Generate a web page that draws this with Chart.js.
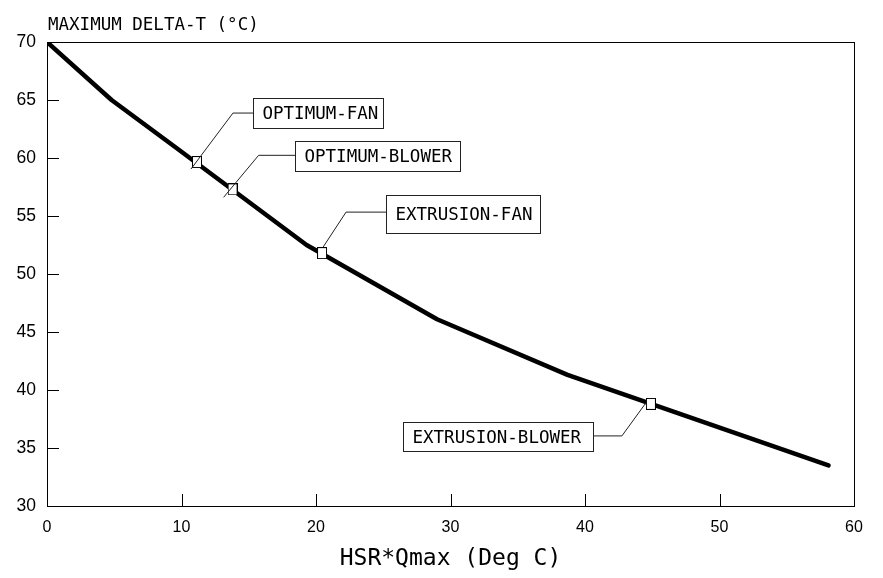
<!DOCTYPE html>
<html>
<head>
<meta charset="utf-8">
<script src="https://cdn.jsdelivr.net/npm/chart.js@4.4.1/dist/chart.umd.min.js"></script>
<style>
    html, body { margin: 0; padding: 0; background: #fff; }
    #wrap { width: 883px; height: 578px; }
</style>
</head>
<body>
<div id="wrap"><canvas id="grafico"></canvas></div>
<script>
// curve data
const hsrQmax = [0, 4.8, 9.7, 19.3, 29.0, 38.7, 48.4, 58.1];
const maxDeltaT = [70, 65.0, 60.8, 52.5, 46.1, 41.3, 37.4, 33.5];

// design points
const designNames = ['OPTIMUM-FAN', 'OPTIMUM-BLOWER', 'EXTRUSION-FAN', 'EXTRUSION-BLOWER'];
const designX = [11.15, 13.8, 20.45, 44.9];
const designY = [59.65, 57.3, 51.8, 38.8];

const xTicks = [0, 10, 20, 30, 40, 50, 60];
const yTicks = [30, 35, 40, 45, 50, 55, 60, 65, 70];

// leader line layout (pixels, relative to the marker)
const leaders = [
    {start: [-6, 7], elbow: [36, -49], left: 56, cy: -49, w: 130, h: 30},
    {start: [-9, 8], elbow: [26, -34], left: 62, cy: -33, w: 165, h: 30},
    {start: [1, -6], elbow: [24, -41], left: 64, cy: -39, w: 154, h: 38},
    {start: [-5, -1], elbow: [-29, 32], left: -248, cy: 32.5, w: 190, h: 29}
];

const monoFont = '"DejaVu Sans Mono", "Liberation Mono", monospace';
const sansFont = '"Liberation Sans", Arial, sans-serif';

function marcador() {
    let c = document.createElement('canvas');
    c.width = 10;
    c.height = 12;
    let ctx = c.getContext('2d');
    ctx.fillStyle = '#fff';
    ctx.fillRect(0, 0, 10, 12);
    ctx.strokeStyle = '#000';
    ctx.lineWidth = 1;
    ctx.strokeRect(0.5, 0.5, 9, 11);
    return c;
}

const puntos = [];
for (let i = 0; i < hsrQmax.length; i++) {
    puntos.push({x: hsrQmax[i], y: maxDeltaT[i]});
}
const disenos = [];
for (let i = 0; i < designX.length; i++) {
    disenos.push({x: designX[i], y: designY[i]});
}

const extras = {
    id: 'extras',
    afterDraw(chart) {
        const ctx = chart.ctx;
        const a = chart.chartArea;
        const xs = chart.scales.x;
        const ys = chart.scales.y;
        ctx.save();
        ctx.strokeStyle = '#000';
        ctx.lineWidth = 1;
        // frame
        ctx.strokeRect(Math.round(a.left) + 0.5, Math.round(a.top) + 0.5, Math.round(a.right - a.left), Math.round(a.bottom - a.top));
        // inward ticks
        ctx.beginPath();
        for (let i = 1; i < xTicks.length - 1; i++) {
            let px = Math.round(xs.getPixelForValue(xTicks[i])) + 0.5;
            ctx.moveTo(px, a.bottom);
            ctx.lineTo(px, a.bottom - 12);
        }
        for (let i = 1; i < yTicks.length - 1; i++) {
            let py = Math.round(ys.getPixelForValue(yTicks[i])) + 0.5;
            ctx.moveTo(a.left, py);
            ctx.lineTo(a.left + 12, py);
        }
        ctx.stroke();

        // y axis title at top left
        ctx.fillStyle = '#000';
        ctx.font = '17.5px ' + monoFont;
        ctx.textAlign = 'left';
        ctx.textBaseline = 'alphabetic';
        ctx.fillText('MAXIMUM DELTA-T (\u00B0C)', a.left + 1, 30);

        // leader lines and label boxes
        ctx.strokeStyle = '#222';
        ctx.textBaseline = 'middle';
        for (let i = 0; i < designNames.length; i++) {
            let mx = xs.getPixelForValue(designX[i]);
            let my = ys.getPixelForValue(designY[i]);
            let l = leaders[i];
            let bx = Math.round(mx + l.left) + 0.5;
            let by = Math.round(my + l.cy - l.h / 2) + 0.5;
            let edge = l.left > 0 ? bx : bx + l.w;
            ctx.beginPath();
            ctx.moveTo(mx + l.start[0], my + l.start[1]);
            ctx.lineTo(mx + l.elbow[0], my + l.elbow[1]);
            ctx.lineTo(edge, my + l.elbow[1]);
            ctx.stroke();
            ctx.fillStyle = '#fff';
            ctx.fillRect(bx, by, l.w, l.h);
            ctx.strokeRect(bx, by, l.w, l.h);
            ctx.fillStyle = '#000';
            ctx.fillText(designNames[i], bx + 9, by + l.h / 2 + 1);
        }
        ctx.restore();
    }
};

Chart.defaults.color = '#000';

new Chart(document.getElementById('grafico'), {
    type: 'scatter',
    data: {
        datasets: [{
            label: 'Max delta-T',
            data: puntos,
            showLine: true,
            borderColor: '#000',
            borderWidth: 4.5,
            borderJoinStyle: 'round',
            borderCapStyle: 'round',
            tension: 0,
            pointRadius: 0,
            order: 1
        }, {
            label: 'Designs',
            data: disenos,
            pointStyle: marcador(),
            pointRadius: 6,
            order: 0
        }]
    },
    options: {
        responsive: true,
        maintainAspectRatio: false,
        animation: false,
        layout: {padding: {top: 42, right: 29, left: 0, bottom: 0}},
        plugins: {
            legend: {display: false},
            tooltip: {enabled: false}
        },
        scales: {
            x: {
                type: 'linear',
                min: 0,
                max: 60,
                afterFit: function (scale) { scale.height = 72; },
                afterBuildTicks: function (scale) { scale.ticks = xTicks.map(v => ({value: v})); },
                grid: {display: false, drawTicks: false},
                border: {display: true, color: '#000', width: 1},
                ticks: {
                    padding: 12,
                    maxRotation: 0,
                    font: {family: sansFont, size: 16}
                },
                title: {
                    display: true,
                    text: 'HSR*Qmax (Deg C)',
                    color: '#000',
                    font: {family: monoFont, size: 23},
                    padding: {top: 0, bottom: 5}
                }
            },
            y: {
                type: 'linear',
                min: 30,
                max: 70,
                afterFit: function (scale) { scale.width = 47; },
                afterBuildTicks: function (scale) { scale.ticks = yTicks.map(v => ({value: v})); },
                grid: {display: false, drawTicks: false},
                border: {display: true, color: '#000', width: 1},
                ticks: {
                    padding: 11,
                    font: {family: sansFont, size: 17.5}
                }
            }
        }
    },
    plugins: [extras]
});
</script>
</body>
</html>
